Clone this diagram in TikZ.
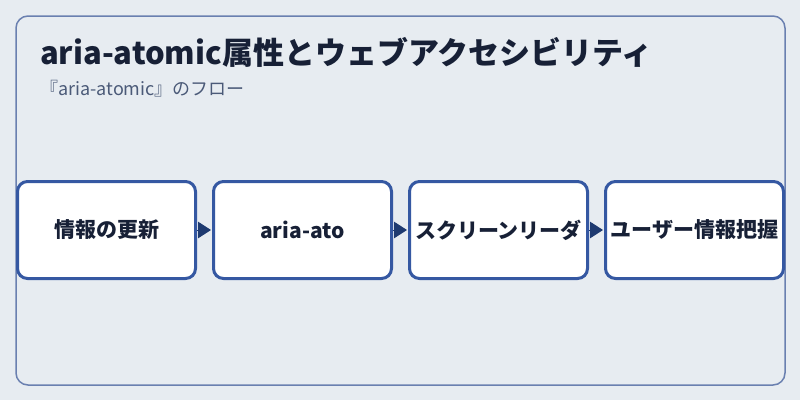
\documentclass[tikz,border=0pt]{standalone}
\usepackage{fontspec}
\setmainfont{Noto Sans CJK JP}
\usetikzlibrary{positioning,arrows.meta}
\definecolor{hintergrund}{HTML}{E7ECF1}
\definecolor{rahmen}{HTML}{6A80B0}
\definecolor{kastenrand}{HTML}{3558A2}
\definecolor{pfeilfarbe}{HTML}{1E3A70}
\definecolor{titelfarbe}{HTML}{172036}
\definecolor{untertitel}{HTML}{4B5A78}
\tikzset{
  kasten/.style={draw=kastenrand, fill=white, line width=3pt, rounded corners=10pt,
    minimum width=178pt, minimum height=97pt, inner sep=0pt,
    font=\bfseries\fontsize{21}{25}\selectfont, text=titelfarbe},
  pfeil/.style={-{Triangle[length=13pt,width=16.5pt]}, draw=pfeilfarbe, fill=pfeilfarbe,
    line width=1pt, shorten >=1pt}
}
\begin{document}
\begin{tikzpicture}[x=1pt,y=-1pt]
% Hintergrund und Rahmen
\fill[hintergrund] (0,0) rectangle (800,400);
\useasboundingbox (0,0) rectangle (800,400);
\draw[rahmen, line width=1.5pt, rounded corners=12pt] (16,16) rectangle (785,385);
% Ueberschriften
\node[anchor=base west, inner sep=0pt, text=titelfarbe, font=\bfseries\fontsize{31}{36}\selectfont]
  (titel) at (40,64) {aria-atomic属性とウェブアクセシビリティ};
\node[anchor=base west, inner sep=0pt, text=untertitel, font=\fontsize{18}{22}\selectfont]
  (untertitel) at (40,95) {『aria-atomic』のフロー};
% Ablauf
\node[kasten] (update) at (106.5,230) {情報の更新};
\node[kasten, right=15pt of update] (aria) {aria-ato};
\node[kasten, right=15pt of aria] (reader) {スクリーンリーダ};
\node[kasten, right=15pt of reader] (nutzer) {ユーザー情報把握};
% Pfeile
\draw[pfeil] (update) -- (aria);
\draw[pfeil] (aria) -- (reader);
\draw[pfeil] (reader) -- (nutzer);
\end{tikzpicture}
\end{document}
